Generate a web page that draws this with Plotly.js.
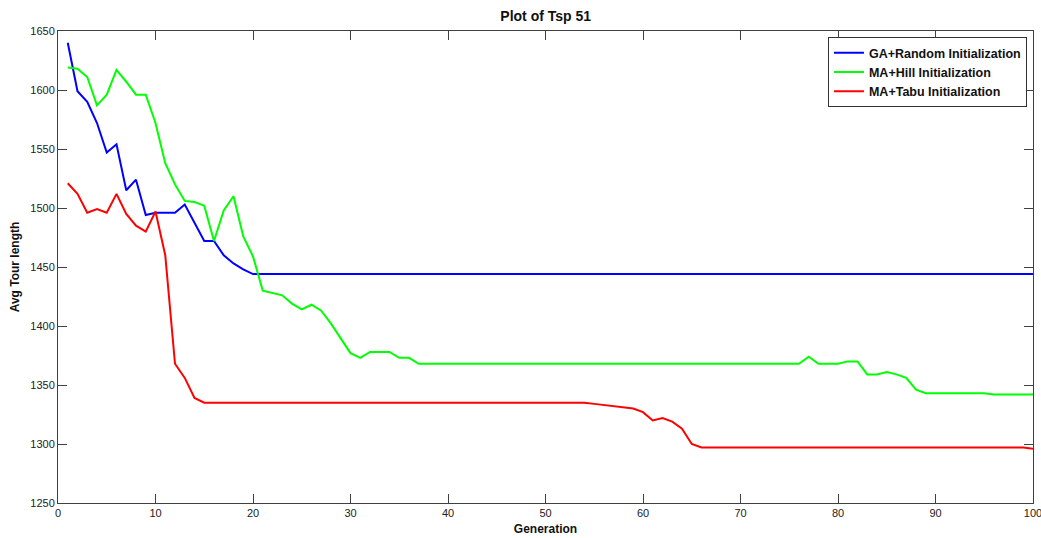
<!DOCTYPE html>
<html>
<head>
<meta charset="utf-8">
<script src="https://cdn.plot.ly/plotly-3.0.1.min.js"></script>
<style>
html,body{margin:0;padding:0;background:#fff;}
#chart{width:1041px;height:538px;}
</style>
</head>
<body>
<div id="chart"></div>
<script>
var generations = [
  1,2,3,4,5,6,7,8,9,10,
  11,12,13,14,15,16,17,18,19,20,
  21,22,23,24,25,26,27,28,29,30,
  31,32,33,34,35,36,37,38,39,40,
  41,42,43,44,45,46,47,48,49,50,
  51,52,53,54,55,56,57,58,59,60,
  61,62,63,64,65,66,67,68,69,70,
  71,72,73,74,75,76,77,78,79,80,
  81,82,83,84,85,86,87,88,89,90,
  91,92,93,94,95,96,97,98,99,100
];

var gaRandom = [
  1640,1599,1590,1572,1547,1554,1515,1524,1494,1496,
  1496,1496,1503,1488,1472,1472,1460,1453,1448,1444,
  1444,1444,1444,1444,1444,1444,1444,1444,1444,1444,
  1444,1444,1444,1444,1444,1444,1444,1444,1444,1444,
  1444,1444,1444,1444,1444,1444,1444,1444,1444,1444,
  1444,1444,1444,1444,1444,1444,1444,1444,1444,1444,
  1444,1444,1444,1444,1444,1444,1444,1444,1444,1444,
  1444,1444,1444,1444,1444,1444,1444,1444,1444,1444,
  1444,1444,1444,1444,1444,1444,1444,1444,1444,1444,
  1444,1444,1444,1444,1444,1444,1444,1444,1444,1444
];

var maHill = [
  1619,1618,1611,1587,1596,1617,1607,1596,1596,1572,
  1538,1520,1506,1505,1502,1472,1498,1510,1476,1459,
  1430,1428,1426,1419,1414,1418,1413,1402,1390,1377,
  1373,1378,1378,1378,1373,1373,1368,1368,1368,1368,
  1368,1368,1368,1368,1368,1368,1368,1368,1368,1368,
  1368,1368,1368,1368,1368,1368,1368,1368,1368,1368,
  1368,1368,1368,1368,1368,1368,1368,1368,1368,1368,
  1368,1368,1368,1368,1368,1368,1374,1368,1368,1368,
  1370,1370,1359,1359,1361,1359,1356,1346,1343,1343,
  1343,1343,1343,1343,1343,1342,1342,1342,1342,1342
];

var maTabu = [
  1521,1512,1496,1499,1496,1512,1495,1485,1480,1497,
  1460,1368,1356,1339,1335,1335,1335,1335,1335,1335,
  1335,1335,1335,1335,1335,1335,1335,1335,1335,1335,
  1335,1335,1335,1335,1335,1335,1335,1335,1335,1335,
  1335,1335,1335,1335,1335,1335,1335,1335,1335,1335,
  1335,1335,1335,1335,1334,1333,1332,1331,1330,1327,
  1320,1322,1319,1313,1300,1297,1297,1297,1297,1297,
  1297,1297,1297,1297,1297,1297,1297,1297,1297,1297,
  1297,1297,1297,1297,1297,1297,1297,1297,1297,1297,
  1297,1297,1297,1297,1297,1297,1297,1297,1297,1296
];

var seriesNames = ['GA+Random Initialization','MA+Hill Initialization','MA+Tabu Initialization'];
var xTicks = [0,10,20,30,40,50,60,70,80,90,100];
var yTicks = [1250,1300,1350,1400,1450,1500,1550,1600,1650];

var font = 'Arial, "Liberation Sans", Helvetica, sans-serif';

var traces = [
  {x: generations, y: gaRandom, name: '<b>' + seriesNames[0] + '</b>', mode: 'lines', line: {color: '#0000ff', width: 2}},
  {x: generations, y: maHill, name: '<b>' + seriesNames[1] + '</b>', mode: 'lines', line: {color: '#00ff00', width: 2}},
  {x: generations, y: maTabu, name: '<b>' + seriesNames[2] + '</b>', mode: 'lines', line: {color: '#ff0000', width: 2}}
];

var axisCommon = {
  showgrid: false,
  zeroline: false,
  showline: true,
  linecolor: '#404040',
  linewidth: 1,
  mirror: 'ticks',
  ticks: 'inside',
  ticklen: 9,
  tickcolor: '#404040',
  tickwidth: 1,
  ticklabeloverflow: 'allow',
  tickfont: {family: font, size: 11, color: '#222'}
};

var layout = {
  width: 1041,
  height: 538,
  paper_bgcolor: '#fff',
  plot_bgcolor: '#fff',
  margin: {l: 58, r: 8, t: 31, b: 35},
  title: {
    text: '<b>Plot of Tsp 51</b>',
    font: {family: font, size: 14, color: '#111'},
    x: 0.5242, xanchor: 'center', y: 0.97, yanchor: 'middle'
  },
  xaxis: Object.assign({}, axisCommon, {
    range: [0, 100],
    tickvals: xTicks,
    ticktext: xTicks.map(String),
    title: {text: '<b>Generation</b>', font: {family: font, size: 12, color: '#111'}, standoff: 6}
  }),
  yaxis: Object.assign({}, axisCommon, {
    range: [1250, 1650],
    tickvals: yTicks,
    ticktext: yTicks.map(String),
    title: {text: '<b>Avg Tour length</b>', font: {family: font, size: 12, color: '#111'}, standoff: 8}
  }),
  showlegend: true,
  legend: {
    x: 0.9938, xanchor: 'right',
    y: 0.987, yanchor: 'top',
    bgcolor: '#fff',
    bordercolor: '#333',
    borderwidth: 1,
    font: {family: font, size: 12.5, color: '#111'},
    tracegroupgap: 0,
    itemwidth: 30
  }
};

Plotly.newPlot('chart', traces, layout, {displayModeBar: false, staticPlot: true});
</script>
</body>
</html>
